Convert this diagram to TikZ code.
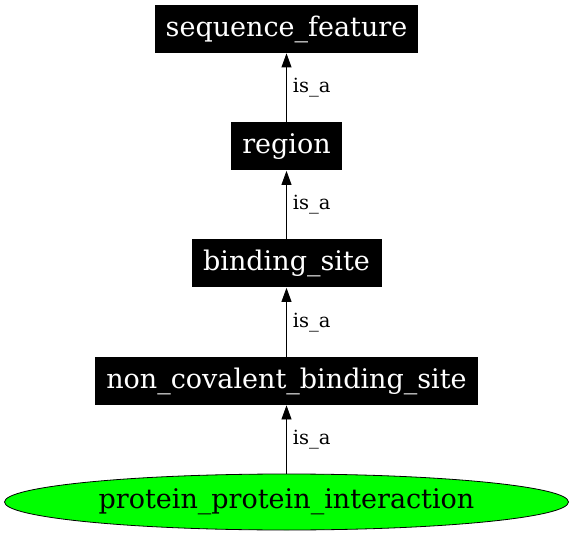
\documentclass[tikz,border=0pt]{standalone}
\usepackage{fontspec}
\setmainfont{DejaVu Serif}
\usetikzlibrary{arrows.meta,shapes.geometric}
\begin{document}
\begin{tikzpicture}[x=1pt, y=1pt, line width=0.8pt,
    >={Triangle[width=10pt,length=14pt]},
    term/.style={fill=black, text=white, inner sep=0pt, minimum height=48pt,
      font=\fontsize{27}{32}\selectfont},
    isa/.style={right, inner sep=6pt, font=\fontsize{19.5}{23}\selectfont}]
  \useasboundingbox (0,0) rectangle (573,536);

  \node[term, minimum width=263pt] (sf) at (286.5,507) {sequence\_feature};
  \node[term, minimum width=111pt] (region) at (286.5,389.5) {region};
  \node[term, minimum width=190pt] (bs) at (286.5,272.5) {binding\_site};
  \node[term, minimum width=383pt] (ncbs) at (286.5,155) {non\_covalent\_binding\_site};
  \node[draw, ellipse, fill=green, inner sep=0pt, minimum width=564pt, minimum height=56pt,
    font=\fontsize{27}{32}\selectfont] (ppi) at (286.5,34) {protein\_protein\_interaction};

  \draw[->] (region) -- (sf) node[isa, midway] {is\_a};
  \draw[->] (bs) -- (region) node[isa, midway] {is\_a};
  \draw[->] (ncbs) -- (bs) node[isa, midway] {is\_a};
  \draw[->] (ppi) -- (ncbs) node[isa, midway] {is\_a};
\end{tikzpicture}
\end{document}
